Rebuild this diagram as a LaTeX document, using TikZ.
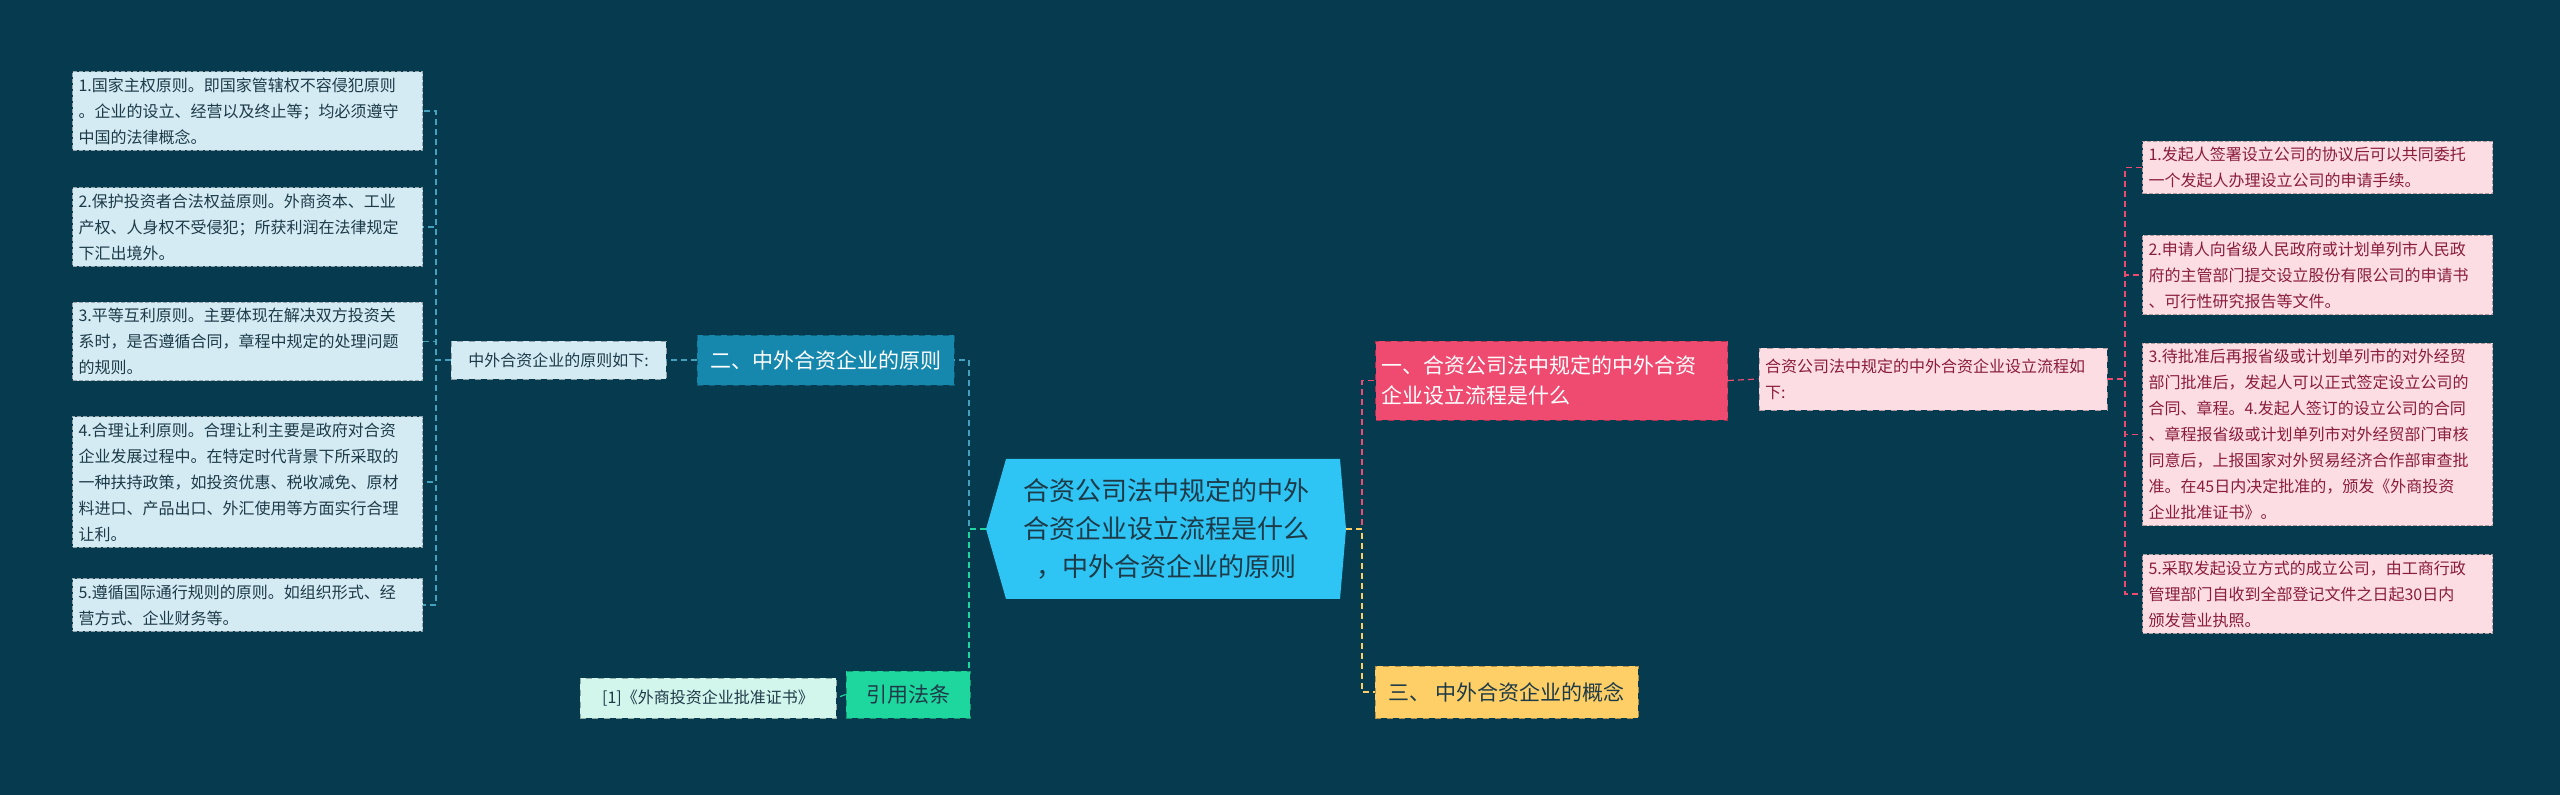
\documentclass[tikz,border=0pt]{standalone}
\usepackage{fontspec}
\setmainfont{Noto Sans CJK SC}
\XeTeXlinebreaklocale "zh"
\XeTeXlinebreakskip = 0pt plus 1pt
\definecolor{bg}{HTML}{063A4E}
\definecolor{lfill}{HTML}{D4EBF3}
\definecolor{ltext}{HTML}{1D3A48}
\definecolor{pfill}{HTML}{FCDDE4}
\definecolor{ptext}{HTML}{8A1C3C}
\definecolor{cblue}{HTML}{2EC4F3}
\definecolor{tealb}{HTML}{1688AE}
\definecolor{redb}{HTML}{EF4A70}
\definecolor{yelb}{HTML}{FDCF66}
\definecolor{grnb}{HTML}{1ED79E}
\definecolor{mint}{HTML}{D2F5EC}
\tikzset{
 leaf/.style={draw=#1!70!black,dashed,dash pattern=on 2pt off 1pt,line width=0.5pt,inner sep=3pt,align=left,font=\fontsize{8}{13}\selectfont,text width=169pt,anchor=west},
 lbox/.style={leaf=lfill,fill=lfill,text=ltext},
 pbox/.style={leaf=pfill,fill=pfill,text=ptext},
 conn/.style={dashed,dash pattern=on 3pt off 2pt,line width=0.6pt},
}
\begin{document}
\begin{tikzpicture}[x=0.5pt,y=-0.5pt]
\fill[bg] (0,0) rectangle (2560,795);
\useasboundingbox (0,0) rectangle (2560,795);
% center
\fill[cblue] (1006,459) -- (1340,459) -- (1346,529) -- (1340,599) -- (1006,599) -- (986,529) -- cycle;
\node[font=\fontsize{13}{19}\selectfont,align=center,text=ltext] (c) at (1166,529) {合资公司法中规定的中外\\合资企业设立流程是什么\\，中外合资企业的原则};
\coordinate (cl) at (986,529);
\coordinate (cr) at (1346,529);
% level 1
\node[fill=tealb,draw=tealb!70!black,dashed,text=white,font=\fontsize{10.5}{14}\selectfont,minimum width=128.5pt,minimum height=25pt,inner sep=3pt] (b2) at (825.5,360) {二、中外合资企业的原则};
\node[fill=grnb,draw=grnb!70!black,dashed,text=ltext,font=\fontsize{10.5}{14}\selectfont,minimum width=62pt,minimum height=23.5pt,inner sep=3pt] (ref) at (908,694.5) {引用法条};
\node[fill=redb,draw=redb!70!black,dashed,text=white,font=\fontsize{10.5}{15}\selectfont,align=left,text width=170pt,minimum height=39.5pt,inner sep=3pt] (b1) at (1551.5,380.5) {一、合资公司法中规定的中外合资\\企业设立流程是什么};
\node[fill=yelb,draw=yelb!70!black,dashed,text=ltext,font=\fontsize{10.5}{14}\selectfont,minimum width=131.5pt,minimum height=26pt,inner sep=3pt] (b3) at (1506.5,692) {三、 中外合资企业的概念};
% level 2
\node[fill=lfill,draw=lfill!70!black,dashed,text=ltext,font=\fontsize{8}{12}\selectfont,minimum width=107.5pt,minimum height=19pt,inner sep=3pt] (m2) at (558.5,360) {中外合资企业的原则如下:};
\node[fill=mint,draw=mint!70!black,dashed,text=ltext,font=\fontsize{8}{12}\selectfont,minimum width=128pt,minimum height=20pt,inner sep=3pt] (mr) at (708,698) {[1]《外商投资企业批准证书》};
\node[fill=pfill,draw=pfill!70!black,dashed,text=ptext,font=\fontsize{8}{13}\selectfont,align=left,text width=168pt,minimum height=31pt,inner sep=3pt] (m1) at (1933,379) {合资公司法中规定的中外合资企业设立流程如\\下:};
% left leaves
\node[lbox] (l1) at (72,111) {1.国家主权原则。即国家管辖权不容侵犯原则\\。企业的设立、经营以及终止等；均必须遵守\\中国的法律概念。};
\node[lbox] (l2) at (72,227) {2.保护投资者合法权益原则。外商资本、工业\\产权、人身权不受侵犯；所获利润在法律规定\\下汇出境外。};
\node[lbox] (l3) at (72,341.5) {3.平等互利原则。主要体现在解决双方投资关\\系时，是否遵循合同，章程中规定的处理问题\\的规则。};
\node[lbox] (l4) at (72,482) {4.合理让利原则。合理让利主要是政府对合资\\企业发展过程中。在特定时代背景下所采取的\\一种扶持政策，如投资优惠、税收减免、原材\\料进口、产品出口、外汇使用等方面实行合理\\让利。};
\node[lbox] (l5) at (72,605) {5.遵循国际通行规则的原则。如组织形式、经\\营方式、企业财务等。};
% right leaves
\node[pbox] (r1) at (2142,167.5) {1.发起人签署设立公司的协议后可以共同委托\\一个发起人办理设立公司的申请手续。};
\node[pbox] (r2) at (2142,275) {2.申请人向省级人民政府或计划单列市人民政\\府的主管部门提交设立股份有限公司的申请书\\、可行性研究报告等文件。};
\node[pbox] (r3) at (2142,434.5) {3.待批准后再报省级或计划单列市的对外经贸\\部门批准后，发起人可以正式签定设立公司的\\合同、章程。4.发起人签订的设立公司的合同\\、章程报省级或计划单列市对外经贸部门审核\\同意后，上报国家对外贸易经济合作部审查批\\准。在45日内决定批准的，颁发《外商投资\\企业批准证书》。};
\node[pbox] (r4) at (2142,594) {5.采取发起设立方式的成立公司，由工商行政\\管理部门自收到全部登记文件之日起30日内\\颁发营业执照。};
% connectors
\draw[conn,tealb!80!white] (cl) -- (969,529) |- (b2.east);
\draw[conn,grnb] (cl) -- (969,529) |- (ref.east);
\draw[conn,redb] (cr) -- (1362,529) |- (b1.west);
\draw[conn,yelb] (cr) -- (1362,529) |- (b3.west);
\draw[conn,tealb!80!white] (b2.west) -- (m2.east);
\draw[conn,grnb] (ref.west) -- (mr.east);
\draw[conn,redb] (b1.east) -- (m1.west);
\foreach \n in {l1,l2,l3,l4,l5} \draw[conn,tealb!80!white] (m2.west) -- (436,360) |- (\n.east);
\foreach \n in {r1,r2,r3,r4} \draw[conn,redb] (m1.east) -- (2125,379) |- (\n.west);
\end{tikzpicture}
\end{document}
